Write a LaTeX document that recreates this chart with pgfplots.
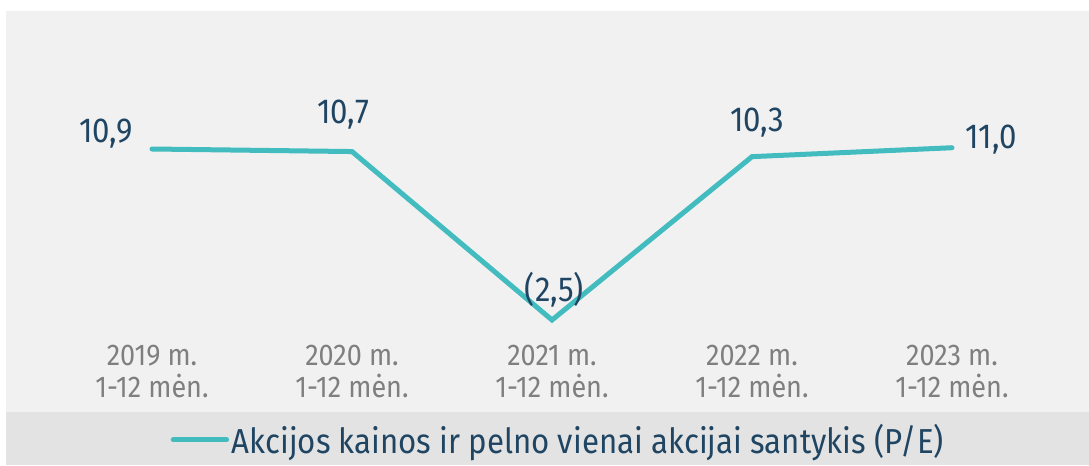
\documentclass[border=0pt]{standalone}
\usepackage{pgfplots}
\pgfplotsset{compat=1.18}
\usepackage{fontspec}
\setmainfont{Fira Sans}[FakeStretch=0.9]
\definecolor{bgplot}{HTML}{F1F1F1}
\definecolor{bgleg}{HTML}{E3E3E3}
\definecolor{teal}{HTML}{42BCBE}
\definecolor{navy}{HTML}{1F4563}
\definecolor{tickgray}{HTML}{7F7F7F}
\begin{document}
\begin{tikzpicture}
\path[use as bounding box] (0,0) rectangle (816.75pt,348.75pt);
\fill[bgplot] (4.5pt,39.75pt) rectangle (816.75pt,340.5pt);
\fill[bgleg] (4.5pt,0pt) rectangle (816.75pt,39.75pt);
\begin{axis}[
  at={(0pt,97.5pt)}, anchor=south west,
  scale only axis, width=816.75pt, height=251.25pt,
  xmin=-0.76, xmax=4.685, ymin=-3.676, ymax=22.576,
  clip=false,
  xtick=data, ytick=\empty,
  xticklabels={{2019 m.\\1-12 mėn.},{2020 m.\\1-12 mėn.},{2021 m.\\1-12 mėn.},{2022 m.\\1-12 mėn.},{2023 m.\\1-12 mėn.}},
  xticklabel style={anchor=north, inner sep=0pt, yshift=-7.5pt, align=center, text=tickgray, font=\fontsize{22.5}{24}\selectfont},
  major tick length=0pt,
  hide y axis,
  axis x line*=bottom,
  x axis line style={draw=none},
  xtick style={draw=none},
  legend style={at={(0.513,-0.313)}, anchor=center, draw=none, fill=none, font=\fontsize{26}{30}\selectfont, text=navy, inner sep=0pt},
  legend image code/.code={\draw[#1, line cap=round] (0pt,0pt) -- (40pt,0pt);},
  legend cell align=left,
]
\addplot[teal, line width=3.75pt, line cap=round, mark=none] coordinates {(0,10.9) (1,10.7) (2,-2.5) (3,10.3) (4,11.0)};
\addlegendentry{Akcijos kainos ir pelno vienai akcijai santykis (P/E)}
\begin{scope}[every node/.style={anchor=base, text=navy, font=\fontsize{26}{30}\selectfont, inner sep=0pt}]
\node[xshift=-34.5pt, yshift=5.25pt] at (axis cs:0,10.9) {10,9};
\node[xshift=-6.75pt, yshift=21pt] at (axis cs:1,10.7) {10,7};
\node[xshift=1.9pt, yshift=13.5pt] at (axis cs:2,-2.5) {(2,5)};
\node[xshift=3.75pt, yshift=18.75pt] at (axis cs:3,10.3) {10,3};
\node[xshift=29.25pt, yshift=-0.75pt] at (axis cs:4,11.0) {11,0};
\end{scope}
\end{axis}
\end{tikzpicture}
\end{document}
